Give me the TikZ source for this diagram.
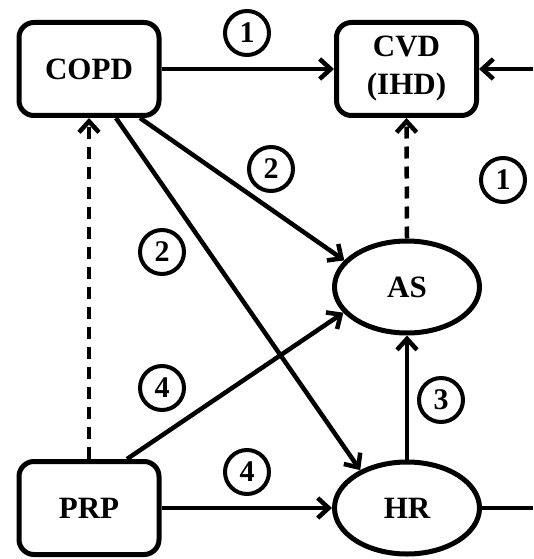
\documentclass[tikz,border=0pt]{standalone}
\usepackage{fontspec}
\setmainfont{Liberation Serif}
\usetikzlibrary{shapes.geometric,arrows.meta}
\tikzset{
  boxnode/.style={draw, line width=5pt, rounded corners=15pt, minimum width=140pt, minimum height=93pt, inner sep=0pt, align=center, font=\fontsize{31}{38}\selectfont\bfseries},
  ellnode/.style={draw, ellipse, line width=5pt, minimum width=145pt, minimum height=92pt, inner sep=0pt, font=\fontsize{31}{38}\selectfont\bfseries},
  numnode/.style={draw, circle, line width=4pt, minimum size=44pt, inner sep=0pt, font=\fontsize{30}{34}\selectfont\bfseries},
  conn/.style={line width=4.5pt, -{Straight Barb[length=11pt,width=20pt,line width=4.5pt]}},
  dconn/.style={conn, dash pattern=on 12pt off 8pt},
  plainconn/.style={line width=4.5pt}
}
\begin{document}
\begin{tikzpicture}[x=1pt,y=-1pt]
\useasboundingbox (0,0) rectangle (533,559);
\node[boxnode] (COPD) at (89,69) {COPD};
\node[boxnode] (CVD) at (406.5,69) {\raisebox{-3pt}{CVD}\\\raisebox{-3pt}{(IHD)}};
\node[boxnode] (PRP) at (89,508) {PRP};
\node[ellnode] (AS) at (407,287) {AS};
\node[ellnode] (HR) at (407,508) {HR};
\coordinate (rin) at (533,69);
\coordinate (rout) at (533,508);
\node[numnode] (n1a) at (247,33) {1};
\node[numnode] (n2a) at (271,169) {2};
\node[numnode] (n1b) at (503,180) {1};
\node[numnode] (n2b) at (162,252) {2};
\node[numnode] (n4a) at (162,388) {4};
\node[numnode] (n4b) at (247,472) {4};
\node[numnode] (n3) at (441,400) {3};
\draw[conn] (COPD.east) -- (CVD.west);
\draw[conn] (rin) -- (CVD.east);
\draw[conn] ([xshift=51pt]COPD.south) -- (AS.157);
\draw[conn] ([xshift=27pt]COPD.south) -- (HR.141);
\draw[conn] ([xshift=38pt]PRP.north) -- (AS.202);
\draw[conn] (PRP.east) -- (HR.west);
\draw[dconn] (PRP.north) -- (COPD.south);
\draw[dconn] (AS.north) -- (CVD.south);
\draw[conn] (HR.north) -- (AS.south);
\draw[plainconn] (HR.east) -- (rout);
\end{tikzpicture}
\end{document}
